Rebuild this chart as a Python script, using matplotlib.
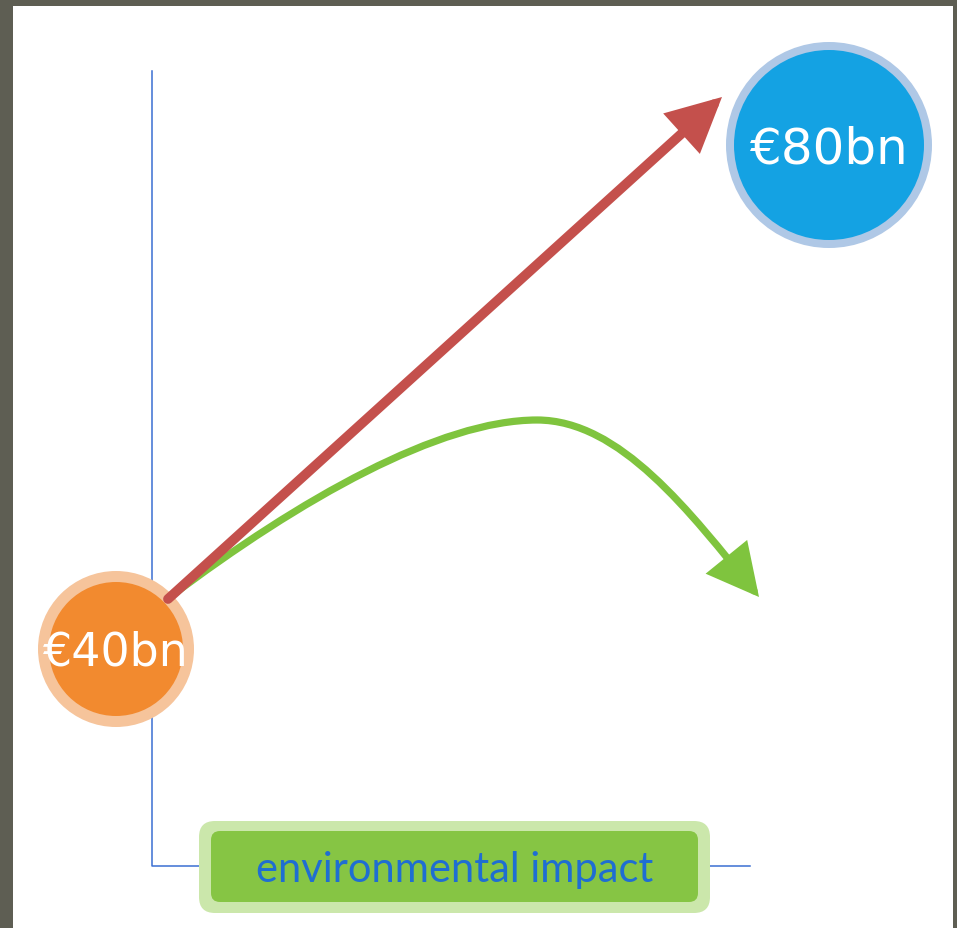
import matplotlib
matplotlib.use("Agg")
import matplotlib.pyplot as plt
from matplotlib.patches import Circle, FancyArrowPatch, FancyBboxPatch, Rectangle
from matplotlib.path import Path

# 图中数值 (像素坐标, y 向下)
labels = ["€40bn", "€80bn"]
centers = [(116, 650), (829, 146)]
radii = [67, 95]
ring_radii = [78, 103]
fill_colors = ["#f28a2f", "#14a2e3"]
ring_colors = ["#f6c49b", "#afc8e6"]
font_sizes = [33, 36]

axis_x = [152, 152, 750]
axis_y = [72, 867, 867]
axis_label = "environmental impact"

red_start, red_end = (168, 600), (722, 98)
# 绿色曲线: 两段三次贝塞尔 (起点 -> 顶点 -> 箭头尖)
green_pts = [(170, 598), (300, 500), (440, 421), (537, 421),
             (620, 421), (690, 513), (759, 598)]

fig = plt.figure(figsize=(9.57, 9.29), dpi=100)
fig.patch.set_facecolor("#5e5e53")
ax = fig.add_axes([0, 0, 1, 1])
ax.set_xlim(0, 957)
ax.set_ylim(929, 0)
ax.axis("off")

ax.add_patch(Rectangle((13, 7), 940, 925, facecolor="white", edgecolor="none", zorder=0))

# 坐标轴
ax.plot(axis_x, axis_y, color="#3b6fd2", lw=1.1, zorder=1)

# 横轴标签框
ax.add_patch(FancyBboxPatch((199, 822), 511, 92, boxstyle="round,pad=0,rounding_size=16",
                            facecolor="#cbe7ab", edgecolor="none", zorder=2))
ax.add_patch(FancyBboxPatch((211, 832), 487, 71, boxstyle="round,pad=0,rounding_size=9",
                            facecolor="#86c544", edgecolor="none", zorder=3))
ax.text(455, 870, axis_label, ha="center", va="center", fontsize=30,
        family="Lato", color="#1f6ed2", zorder=4)

# 圆
for lab, c, r, rr, fc, rc, fs in zip(labels, centers, radii, ring_radii,
                                      fill_colors, ring_colors, font_sizes):
    ax.add_patch(Circle(c, rr, facecolor=rc, edgecolor="none", zorder=2))
    ax.add_patch(Circle(c, r, facecolor=fc, edgecolor="none", zorder=3))
    ax.text(c[0], c[1] + 3, lab, ha="center", va="center", fontsize=fs,
            color="white", zorder=6)

# 绿色曲线箭头
codes = [Path.MOVETO] + [Path.CURVE4] * 6
path = Path(green_pts, codes)
green = FancyArrowPatch(path=path, arrowstyle="-|>,head_length=29,head_width=15",
                        color="#7fc43e", lw=5.2, shrinkA=0, shrinkB=0,
                        joinstyle="miter", zorder=4)
ax.add_patch(green)

# 红色直线箭头
red = FancyArrowPatch(red_start, red_end, arrowstyle="-|>,head_length=28,head_width=14",
                      color="#c4504c", lw=7, shrinkA=0, shrinkB=0,
                      joinstyle="miter", zorder=5)
ax.add_patch(red)

fig.savefig("out.png", dpi=100, facecolor=fig.get_facecolor())
